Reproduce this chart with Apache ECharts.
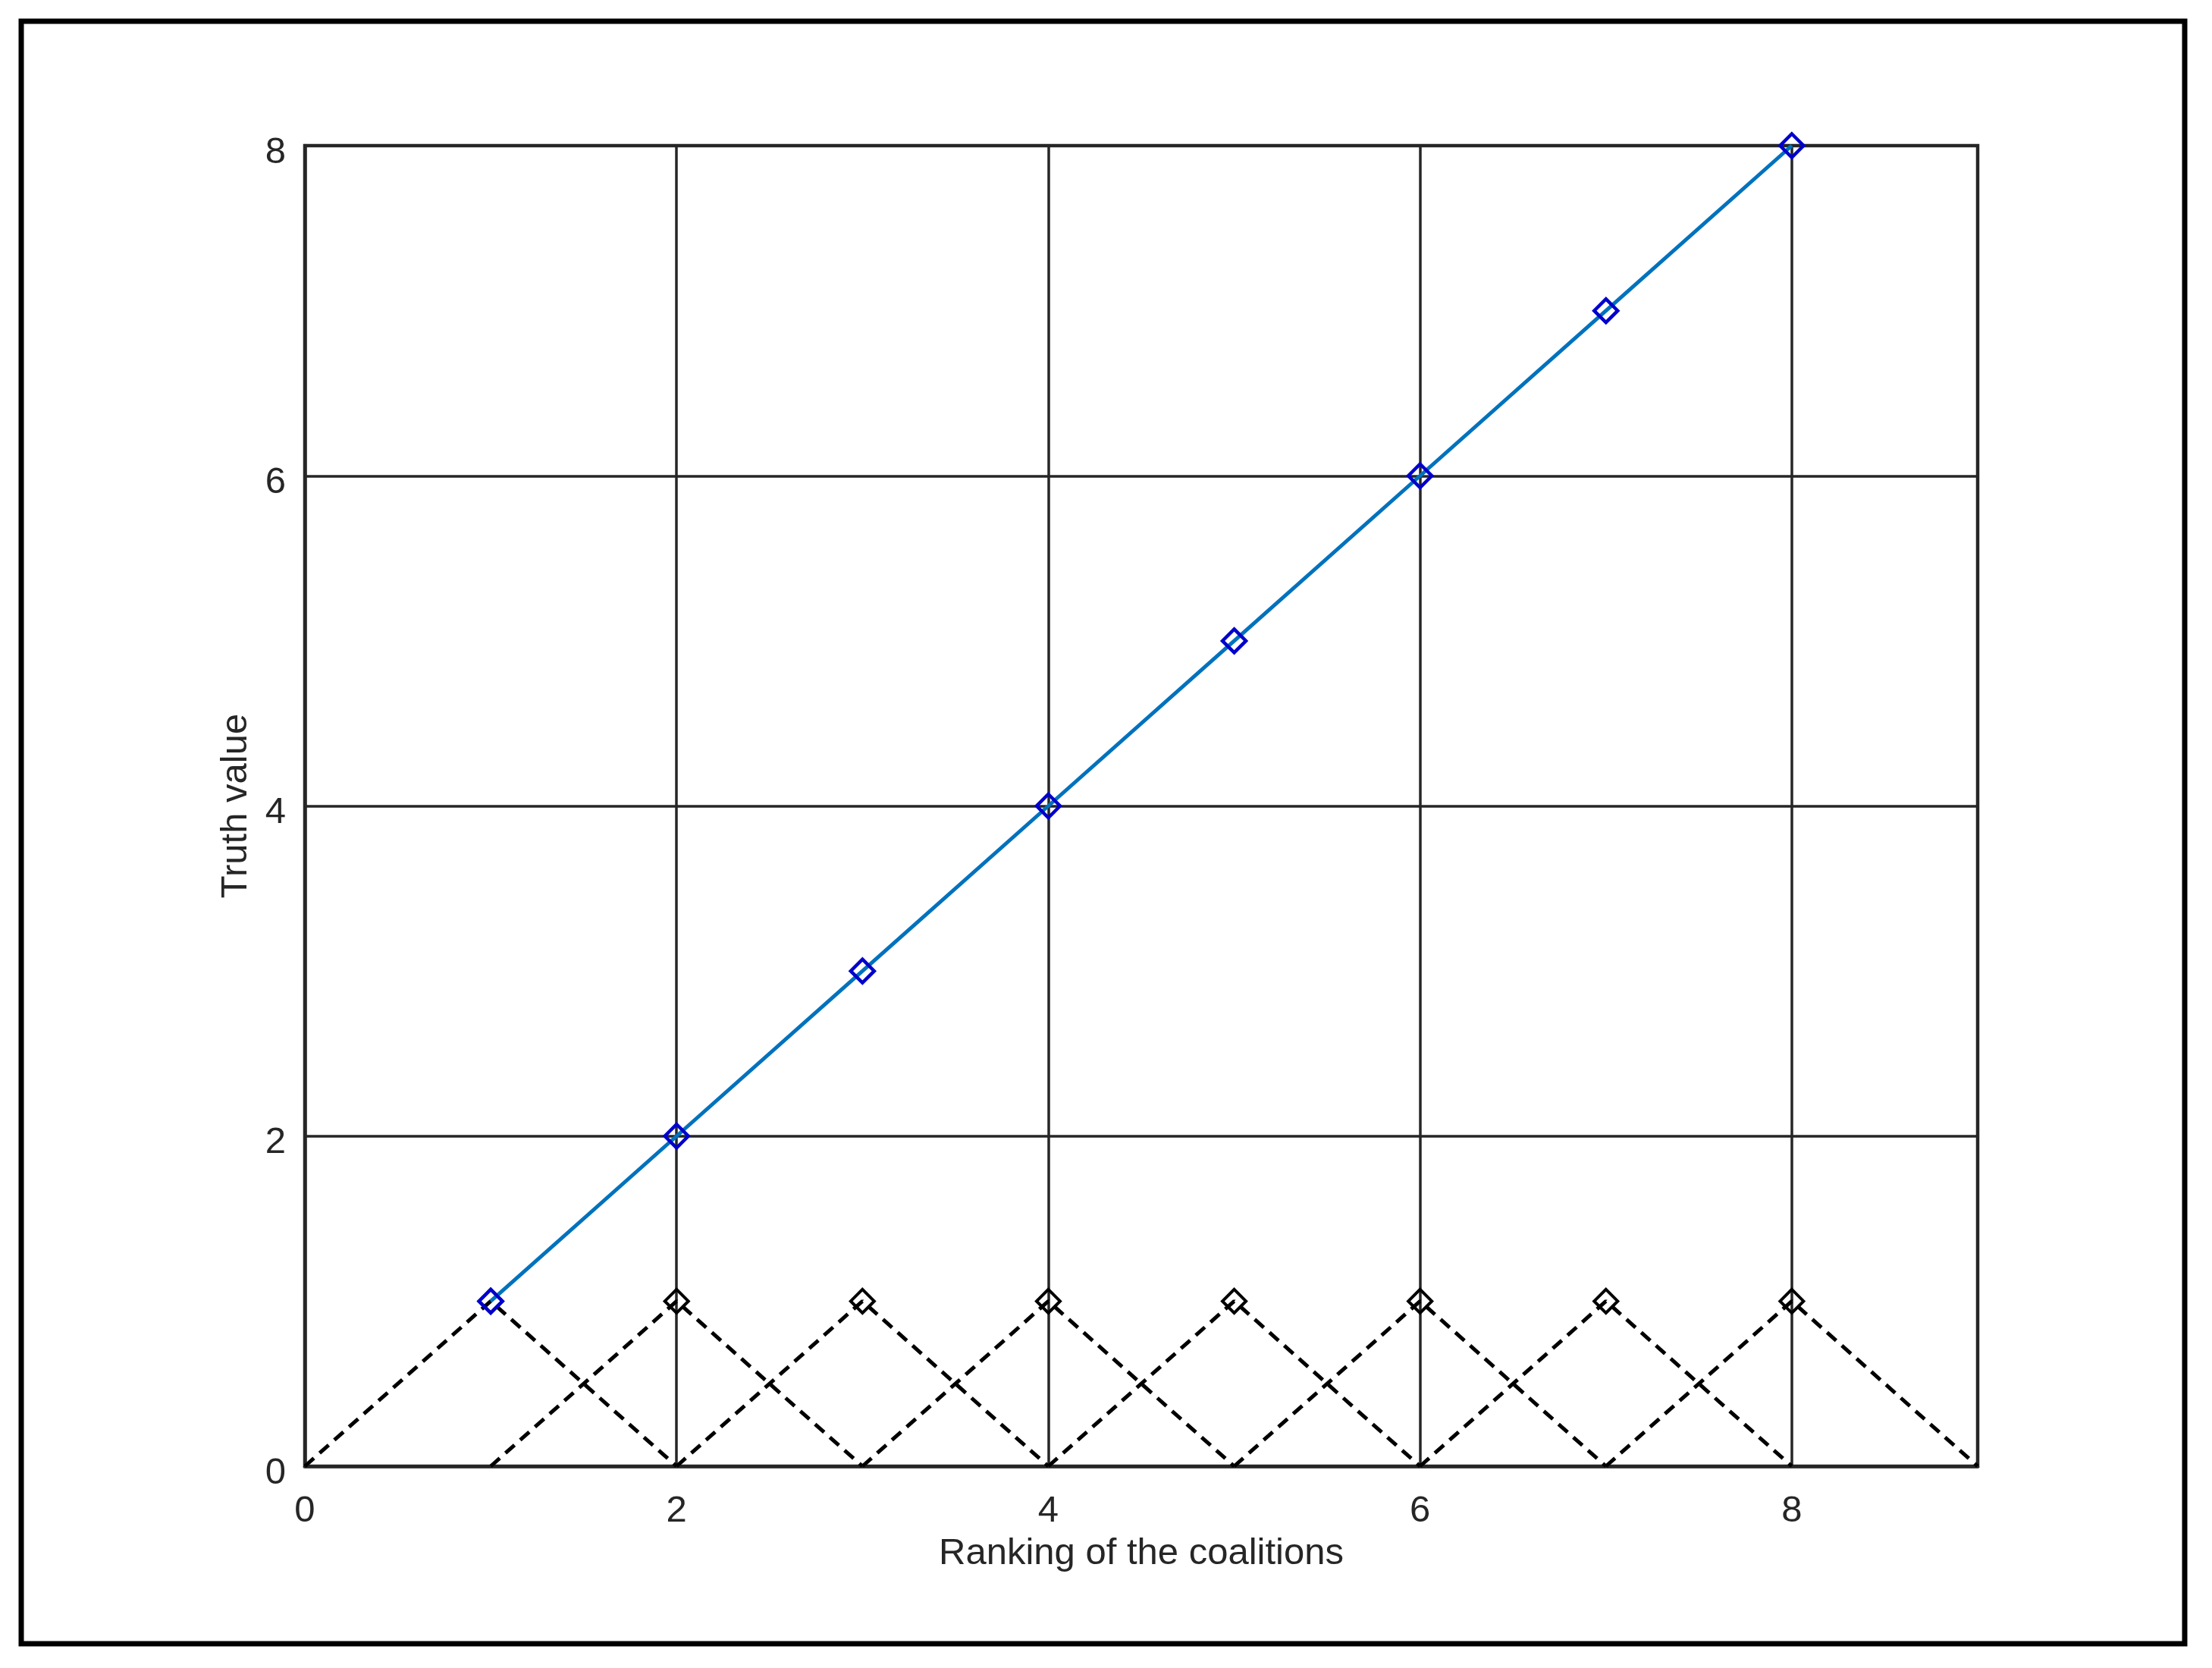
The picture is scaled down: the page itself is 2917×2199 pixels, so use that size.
<!DOCTYPE html>
<html lang="en">
<head>
    <meta charset="UTF-8">
    <title>Truth value</title>
    <script src="https://cdn.jsdelivr.net/npm/echarts@6/dist/echarts.min.js"></script>
    <style>
        html, body { margin: 0; padding: 0; background: #fff; }
        #chart { width: 2917px; height: 2199px; }
    </style>
</head>
<body>
<div id="chart"></div>
<script type="application/javascript">
    // ranking of the coalitions and their truth values
    var ranks = [1, 2, 3, 4, 5, 6, 7, 8];
    var truthValues = [1, 2, 3, 4, 5, 6, 7, 8];
    // dashed triangles: each one rises from left foot to peak and back to right foot
    var triangleLeft = [0, 1, 2, 3, 4, 5, 6, 7];
    var triangleRight = [2, 3, 4, 5, 6, 7, 8, 9];
    var trianglePeak = [1, 1, 1, 1, 1, 1, 1, 1];
    var xTicks = [0, 2, 4, 6, 8];
    var yTicks = [0, 2, 4, 6, 8];

    var textColor = '#262626';
    var font = 'Liberation Sans, Arial, sans-serif';

    var series = [];
    ranks.forEach(function (r, i) {
        series.push({
            type: 'line',
            data: [
                {value: [triangleLeft[i], 0], symbol: 'none'},
                {value: [r, trianglePeak[i]]},
                {value: [triangleRight[i], 0], symbol: 'none'}
            ],
            symbol: 'diamond',
            symbolSize: 31,
            showSymbol: true,
            lineStyle: {color: '#000', width: 5, type: [16, 10]},
            itemStyle: {color: 'rgba(0,0,0,0)', borderColor: '#000', borderWidth: 4},
            z: 3
        });
    });
    series.push({
        type: 'line',
        data: ranks.map(function (r, i) { return [r, truthValues[i]]; }),
        symbol: 'diamond',
        symbolSize: 31,
        showSymbol: true,
        lineStyle: {color: '#0072BD', width: 5},
        itemStyle: {color: 'rgba(0,0,0,0)', borderColor: '#0000CC', borderWidth: 4.5},
        z: 4
    });

    var chart = echarts.init(document.getElementById('chart'));
    chart.setOption({
        animation: false,
        backgroundColor: '#fff',
        graphic: [{
            type: 'rect',
            shape: {x: 28, y: 28, width: 2853, height: 2139},
            style: {fill: 'none', stroke: '#000', lineWidth: 7},
            z: 10
        }],
        grid: {
            left: 402, right: 309, top: 192, bottom: 266,
            show: true,
            borderColor: textColor,
            borderWidth: 4.5
        },
        xAxis: {
            type: 'value',
            min: 0, max: 9, interval: 2,
            name: 'Ranking of the coalitions',
            nameLocation: 'middle',
            nameGap: 91,
            nameTextStyle: {color: textColor, fontSize: 49, fontFamily: font},
            axisLine: {show: true, lineStyle: {color: textColor, width: 4.5}},
            axisTick: {show: false},
            axisLabel: {
                color: textColor, fontSize: 49, fontFamily: font, margin: 35,
                showMaxLabel: false,
                formatter: function (v) { return xTicks.indexOf(v) >= 0 ? String(v) : ''; }
            },
            splitLine: {show: true, lineStyle: {color: textColor, width: 3.5}}
        },
        yAxis: {
            type: 'value',
            min: 0, max: 8, interval: 2,
            name: 'Truth value',
            nameLocation: 'middle',
            nameGap: 66,
            nameRotate: 90,
            nameTextStyle: {color: textColor, fontSize: 49, fontFamily: font},
            axisLine: {show: true, lineStyle: {color: textColor, width: 4.5}},
            axisTick: {show: false},
            axisLabel: {
                color: textColor, fontSize: 49, fontFamily: font, margin: 25,
                verticalAlign: 'top',
                lineHeight: 18,
                formatter: function (v) { return yTicks.indexOf(v) >= 0 ? String(v) : ''; }
            },
            splitLine: {show: true, lineStyle: {color: textColor, width: 3.5}}
        },
        series: series
    });
</script>
</body>
</html>
